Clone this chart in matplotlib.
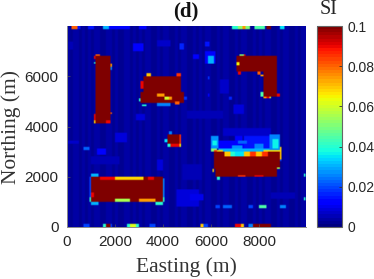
import numpy as np
import matplotlib
matplotlib.use('Agg')
import matplotlib.pyplot as plt

# grid
cell = 62.5
n_east, n_north = 160, 128

# column-wise background SI (hand estimated vertical striping)
background_cols = [
 .004,.003,.004,.004,.002,.004,.003,.004,.002,.004,.004,.003,.002,.004,.004,.003,
 .004,.002,.003,.004,.004,.002,.004,.003,.004,.002,.004,.004,.003,.002,.004,.003,
 .004,.004,.002,.003,.004,.002,.004,.004,.003,.002,.004,.003,.004,.002,.004,.004,
 .003,.002,.004,.003,.004,.004,.002,.003,.004,.002,.004,.004,.003,.002,.004,.003,
 .004,.002,.004,.004,.003,.002,.004,.003,.004,.004,.002,.003,.004,.002,.004,.004]

# (E0, E1, N0, N1, SI)
faint_patches = [
 (2765,3180,6995,7330,.011),(3737,4292,7190,7460,.007),(4710,4875,7087,7327,.017),
 (5265,5473,6660,6860,.012),(56,264,7060,7390,.006),(2900,3250,4260,4530,.009),
 (5750,6167,6530,7000,.013),(5900,6130,6530,6800,.03),(5750,5930,7190,7400,.015),
 (5850,5960,5890,5990,.018),(6375,6720,5330,5860,.007),(6764,6875,5090,5190,.016),
 (5850,5960,5170,5300,.013),(6930,7350,4530,4860,.008),(5000,6500,4300,4600,.006),
 (1240,1650,2860,3130,.012),(680,960,3090,3190,.022),(2000,2500,3400,3720,.008),
 (3740,4020,2260,2660,.008),(4570,5500,800,1470,.008),(0,480,3320,3460,.007),
 (5120,5680,1060,1330,.01),(4800,5600,1900,2500,.005),(1000,2200,2500,2800,.005),
 (8500,9500,1100,1400,.006),(6500,8500,3650,3950,.007),(7000,7300,3400,3650,.011),
 (3740,4290,4900,5110,.025),(4875,5000,5050,5200,.018),
]

halo_patches = [
 (6300,7400,3130,3450,.012),(7400,8450,3130,3650,.015),(7100,7500,3300,3450,.022),
 (6300,8450,3000,3130,.03),(6900,7300,3130,3220,.028),(7800,8200,3130,3300,.026),
 (5990,6310,3150,3600,.028),(6050,6250,3250,3450,.036),(6030,6240,2993,3150,.05),
 (8450,8870,3000,3700,.026),(8550,8800,3150,3500,.036),
]

rows_top = [
 (208,430,7875,8000,.08),(430,560,7875,8000,.015),(900,1100,7875,8000,.015),
 (1500,1720,7875,8000,.03),(1720,2600,7875,8000,.014),(3000,3300,7875,8000,.012),
 (6900,7100,7875,8000,.04),(7100,7300,7875,8000,.052),(7300,7450,7875,8000,.075),
 (7450,7625,7875,8000,.05),(7830,8250,7875,8000,.045),(8320,8530,7875,8000,.1),
 (8875,9080,7875,8000,.035),
]

rows_bottom = [
 (680,930,0,100,.02),(1514,1625,0,100,.04),(1625,1820,0,100,.1),(1820,1900,0,100,.02),
 (2515,2650,0,100,.04),(2650,2850,0,100,.062),(2850,2970,0,100,.04),(3460,3710,0,100,.02),
 (5570,5680,0,100,.07),(5680,5900,0,100,.02),(7030,7240,0,100,.09),(7240,7370,0,100,.07),
 (7560,7760,0,100,.025),(7760,8530,0,100,.1),
 (6170,6380,770,900,.02),(6515,6860,770,900,.022),(7555,7765,770,900,.02),
 (7970,8290,770,900,.045),(8850,9150,770,900,.025),
 (9850,9960,1990,2150,.04),(9850,9960,1090,1190,.04),
]

buildings = [
 (1208,1820,4140,6790,.1),(3208,4780,5400,5980,.1),(3083,4875,4940,5400,.1),
 (7070,8750,6190,6790,.1),(8170,8750,5190,6190,.1),(4180,4780,3190,3700,.1),
 (1030,4010,990,1990,.1),(6110,8845,2300,2793,.1),(6190,8760,1990,2300,.1),
 (6110,6580,2793,2993,.1),(8400,8845,2793,2993,.1),
]

hot_spots = [
 (1208,1400,6790,6900,.08),(1125,1208,6660,6790,.09),(1125,1208,6470,6560,.04),
 (1820,1900,6380,6500,.075),(1820,1900,6250,6380,.025),(1125,1208,4240,4500,.09),
 (1820,1900,4480,4590,.08),(1125,1208,4140,4240,.07),(1620,1800,4140,4240,.09),
 (3290,3490,5970,6100,.07),(4570,4780,5970,6100,.085),(3083,3208,5500,5800,.09),
 (3010,3090,5030,5110,.04),(3100,3290,4790,4900,.04),(3760,4090,5190,5300,.075),
 (4090,4250,5080,5190,.06),(4250,4400,5080,5190,.075),(4500,4710,4900,5010,.08),
 (3740,4290,4800,4900,.025),
 (7170,7375,6790,6900,.05),(7375,7450,6790,6900,.09),(7040,7170,6450,6570,.065),
 (7120,7260,6090,6190,.09),(7920,8070,6090,6190,.08),(8070,8170,5970,6090,.075),
 (8070,8170,5190,5400,.045),(8170,8300,5100,5190,.075),(8300,8430,5100,5190,.09),
 (8430,8530,5100,5190,.06),(8750,8850,5190,5300,.09),
 (1375,2000,1890,1990,.09),(2000,3180,1890,1990,.068),(3400,3610,1890,1990,.09),
 (2000,2625,990,1110,.055),(2970,3710,990,1110,.075),
 (950,1030,1000,2000,.02),(950,1030,1000,1200,.04),(1030,1300,2000,2100,.03),
 (4010,4090,1000,1950,.025),(4010,4090,1000,1200,.04),(1030,1300,900,990,.03),
 (3710,3990,900,990,.04),(1030,1100,1180,1400,.09),
 (4180,4780,3190,3300,.09),(4180,4290,3190,3300,.04),(4690,4780,3190,3300,.065),
 (4680,4780,3300,3700,.085),(4260,4350,3700,3790,.025),(4090,4180,3400,3520,.035),
 (6110,6250,2993,3090,.085),(6250,6500,2993,3090,.068),(6580,6800,2793,2993,.07),
 (6800,7000,2793,2993,.04),(7000,7400,2793,2993,.035),(7400,7600,2793,2993,.07),
 (7600,7900,2793,2993,.085),(7900,8100,2793,2993,.07),(8100,8400,2793,2993,.085),
 (8180,8845,2993,3090,.066),(8850,8950,2700,3200,.07),(8850,8950,2600,2700,.02),
 (7140,7420,1990,2090,.085),(7830,8180,1990,2090,.09),(6070,6150,2190,2330,.07),
 (6265,6375,1890,1990,.04),(8735,8850,2290,2400,.055),
]

si_ticks = [0, .02, .04, .06, .08, .1]
si_labels = ['0', '0.02', '0.04', '0.06', '0.08', '0.1']
east_ticks = [0, 2000, 4000, 6000, 8000]
north_ticks = [0, 2000, 4000, 6000]

grid = np.tile(np.repeat(np.array(background_cols), 2), (n_north, 1))
east = (np.arange(n_east) + .5) * cell
north = (np.arange(n_north) + .5) * cell
for group in (faint_patches, halo_patches, buildings, rows_top, rows_bottom, hot_spots):
    for e0, e1, n0, n1, v in group:
        m_e = (east >= e0) & (east < e1)
        m_n = (north >= n0) & (north < n1)
        grid[np.ix_(m_n, m_e)] = v

W, H = 374, 279
fig = plt.figure(figsize=(W / 100, H / 100), dpi=100)
ax = fig.add_axes([67 / W, 1 - 227 / H, 239 / W, 201 / H])
cmap = plt.get_cmap('jet', 64)
im = ax.imshow(grid, origin='lower', extent=[0, 10000, 0, 8000], aspect='auto',
               cmap=cmap, vmin=0, vmax=.1, interpolation='bilinear',
               interpolation_stage='rgba')
ax.set_xlim(0, 9960)
ax.set_ylim(0, 8000)
sans = 'Liberation Sans'
serif = 'Liberation Serif'
ax.set_xticks(east_ticks)
ax.set_yticks(north_ticks)
ax.tick_params(direction='in', length=2, width=.5, color='#555555', labelsize=11,
               labelcolor='#262626', pad=6)
for lab in ax.get_xticklabels() + ax.get_yticklabels():
    lab.set_family(sans)
for name, sp in ax.spines.items():
    sp.set_linewidth(.7)
    sp.set_color('#8a8a8a')
ax.spines['top'].set_visible(False)
ax.spines['right'].set_visible(False)
fig.text(186 / W, 1 - 11.5 / H, '(d)', family=serif, weight='bold', fontsize=15,
         ha='center', va='center', color='#111111')
fig.text(186 / W, 1 - 267.5 / H, 'Easting (m)', family=serif, fontsize=15.5,
         ha='center', va='center', color='#333333')
fig.text(11 / W, 1 - 126.5 / H, 'Northing (m)', family=serif, fontsize=15.5,
         rotation=90, ha='center', va='center', color='#333333')

cax = fig.add_axes([317 / W, 1 - 227 / H, 25 / W, 201 / H])
cb = fig.colorbar(im, cax=cax)
cb.set_ticks(si_ticks)
cb.set_ticklabels(si_labels)
cb.outline.set_linewidth(.8)
cb.outline.set_edgecolor('#666666')
cax.tick_params(direction='in', length=2, width=.6, color='#333333', labelsize=10,
                labelcolor='#262626', pad=4)
for lab in cax.get_yticklabels():
    lab.set_family(sans)
fig.text(329 / W, 1 - 10 / H, 'SI', family=serif, fontsize=14.5,
         ha='center', va='center', color='#262626')
fig.savefig('out.png', dpi=100)
